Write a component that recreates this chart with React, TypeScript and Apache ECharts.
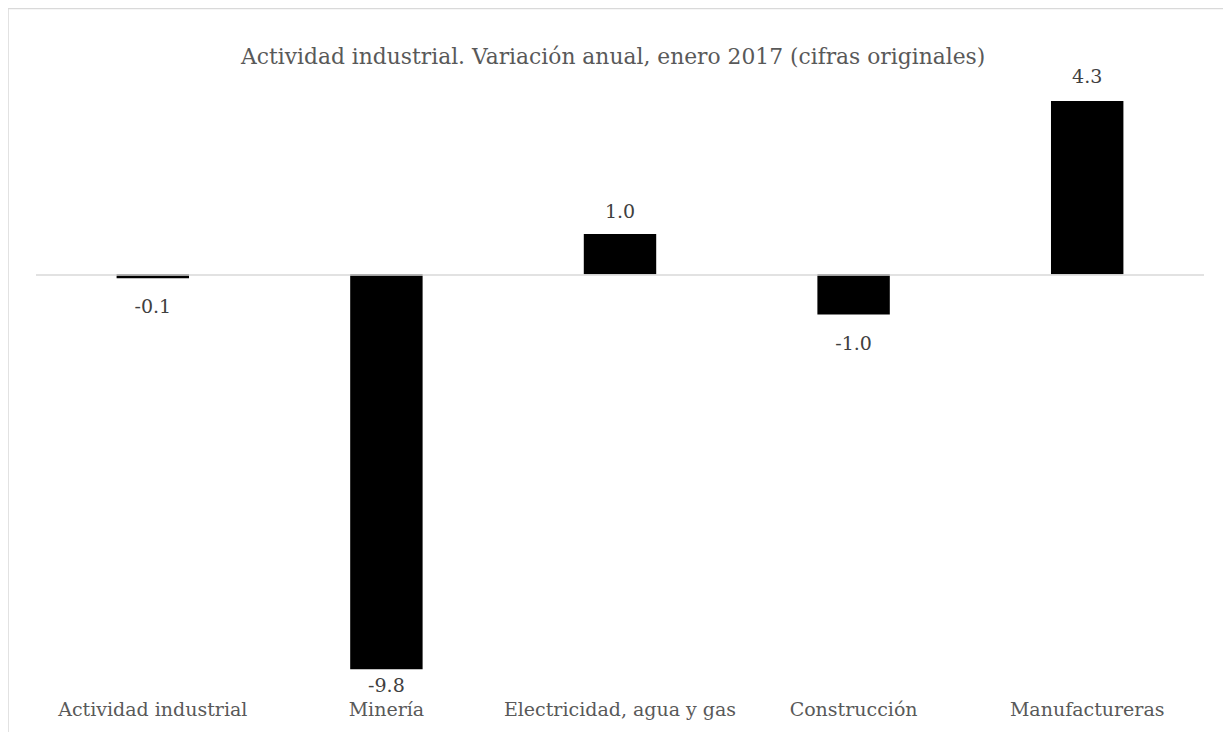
import React, { useEffect, useRef } from "react";
import * as echarts from "echarts";

const categories = [
  "Actividad industrial",
  "Minería",
  "Electricidad, agua y gas",
  "Construcción",
  "Manufactureras",
];
const values = [-0.1, -9.8, 1.0, -1.0, 4.3];
const labelDistances = [18, 6, 14, 18.5, 15.5];
const titleText = "Actividad industrial. Variación anual, enero 2017 (cifras originales)";

const FONT = "DejaVu Serif";

export default function App() {
  const ref = useRef<HTMLDivElement>(null);
  useEffect(() => {
    document.body.style.overflow = "hidden";
    const chart = echarts.init(ref.current!, null, { renderer: "svg" });
    chart.setOption({
      animation: false,
      backgroundColor: "#ffffff",
      title: {
        text: titleText,
        left: 228,
        top: 32,
        textStyle: { fontFamily: FONT, fontSize: 21.8, fontWeight: "normal", color: "#595959" },
      },
      graphic: [
        { type: "line", shape: { x1: 0, y1: 0.5, x2: 1300, y2: 0.5 }, style: { stroke: "#d9d9d9", lineWidth: 1.5 } },
        { type: "line", shape: { x1: 0, y1: 0, x2: 0, y2: 800 }, style: { stroke: "#d9d9d9", lineWidth: 1.5 } },
      ],
      grid: { left: 28, right: 27, top: 24.5, bottom: 54.7 },
      xAxis: {
        type: "category",
        data: categories,
        axisLine: { show: false, onZero: false },
        axisTick: { show: false },
        axisLabel: { fontFamily: FONT, fontSize: 19, color: "#595959", margin: 22, interval: 0 },
      },
      yAxis: {
        type: "value",
        min: -10,
        max: 6,
        show: false,
        splitLine: { show: false },
      },
      series: [
        {
          type: "bar",
          barWidth: "31%",
          itemStyle: { color: "#000000" },
          data: values.map((v, i) => ({
            value: v,
            label: { position: v < 0 ? "bottom" : "top", distance: labelDistances[i] },
          })),
          label: {
            show: true,
            fontFamily: FONT,
            fontSize: 19,
            color: "#404040",
            formatter: (p: any) => Number(p.value).toFixed(1),
          },
          markLine: {
            silent: true,
            symbol: "none",
            label: { show: false },
            lineStyle: { color: "#d9d9d9", type: "solid", width: 1.5 },
            data: [{ yAxis: 0 }],
          },
          z: 3,
        },
      ],
    });
    return () => chart.dispose();
  }, []);
  return <div ref={ref} style={{ width: 1223, height: 724 }} />;
}
